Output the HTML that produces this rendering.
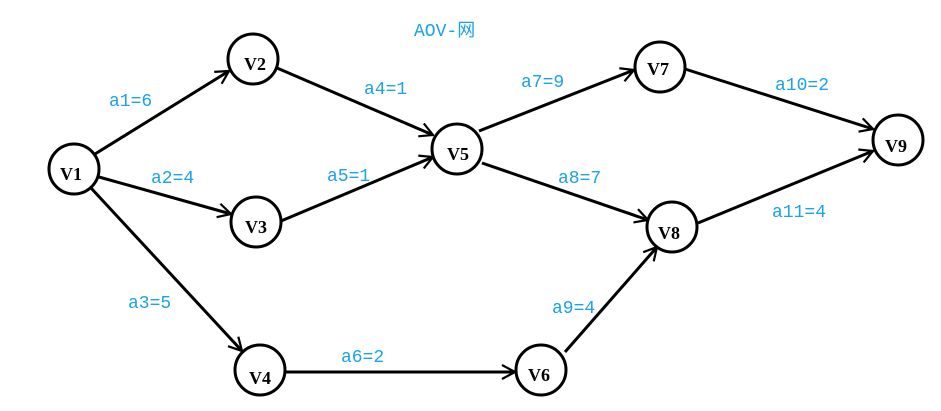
<!DOCTYPE html>
<html><head><meta charset="utf-8"><style>
html,body{margin:0;padding:0;background:#fff}
svg{display:block}
.n{font-family:"Liberation Serif",serif;font-weight:bold;font-size:18px;fill:#000}
.l{font-family:"Liberation Mono","Noto Sans CJK SC",monospace;font-size:18px;fill:#1aa3e8}
</style></head><body>
<svg width="941" height="411" viewBox="0 0 941 411" xmlns="http://www.w3.org/2000/svg">
<defs><marker id="a" viewBox="0 0 16 16" refX="15" refY="8" markerWidth="16" markerHeight="16" markerUnits="userSpaceOnUse" orient="auto"><path d="M2 1 L15 8 L2 15" fill="none" stroke="#000" stroke-width="2.2"/></marker></defs>
<g stroke="#000" stroke-width="3" fill="none" marker-end="url(#a)">
<line x1="95" y1="154" x2="229" y2="71"/>
<line x1="99" y1="177" x2="231" y2="214"/>
<line x1="91" y1="188" x2="242" y2="351"/>
<line x1="277" y1="68" x2="433" y2="135"/>
<line x1="281" y1="221" x2="433" y2="157"/>
<line x1="286" y1="372" x2="515" y2="372"/>
<line x1="479" y1="131" x2="634" y2="70"/>
<line x1="482" y1="163" x2="648" y2="220"/>
<line x1="565" y1="352" x2="657" y2="247"/>
<line x1="685" y1="69" x2="873" y2="129"/>
<line x1="698" y1="223" x2="873" y2="151"/>
</g>
<g stroke="#000" stroke-width="3" fill="#fff">
<circle cx="74" cy="169" r="25"/><circle cx="253" cy="59" r="25"/><circle cx="256" cy="222" r="25"/>
<circle cx="260" cy="370" r="25"/><circle cx="457" cy="149" r="25"/><circle cx="541" cy="370" r="25"/>
<circle cx="660" cy="67" r="25"/><circle cx="672" cy="227" r="25"/><circle cx="898" cy="140" r="25"/>
</g>
<g class="n" text-anchor="middle">
<text x="71" y="180">V1</text><text x="255" y="70">V2</text><text x="256" y="233">V3</text>
<text x="260" y="384">V4</text><text x="458" y="160">V5</text><text x="539" y="381">V6</text>
<text x="658" y="75">V7</text><text x="669" y="239">V8</text><text x="896" y="152">V9</text>
</g>
<g class="l">
<text x="414" y="36">AOV-网</text>
<text x="109" y="106">a1=6</text><text x="151" y="183">a2=4</text><text x="128" y="308">a3=5</text>
<text x="364" y="94">a4=1</text><text x="327" y="181">a5=1</text><text x="341" y="362">a6=2</text>
<text x="521" y="87">a7=9</text><text x="558" y="183">a8=7</text><text x="552" y="313">a9=4</text>
<text x="775" y="90">a10=2</text><text x="772" y="217">a11=4</text>
</g>
</svg>
</body></html>
